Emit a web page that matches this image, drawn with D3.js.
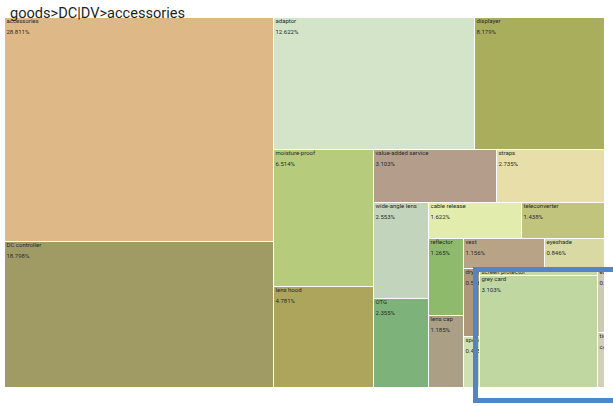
<!DOCTYPE html>
<html><head><meta charset="utf-8">
<script src="https://cdn.jsdelivr.net/npm/d3@7"></script>
<style>html,body{margin:0;padding:0;background:#fff;} svg{display:block;}</style>
</head><body>
<svg id="chart" width="613" height="406"></svg>
<script>
const title = "goods>DC|DV>accessories";
const names = ["accessories","DC controller","adaptor","displayer","moisture-proof","lens hood",
  "value-added service","straps","wide-angle lens","OTG","cable release","teleconverter",
  "reflector","lens cap","vest","eyeshade","dry box","speedlight","screen protector","grey card","earcup","tidy"];
const values = [28.811,18.798,12.622,8.179,6.514,4.781,3.103,2.735,2.553,2.355,1.622,1.438,
  1.265,1.185,1.156,0.846,0.526,0.388,0.39,6.35,0.217,0.183];
const percentLabels = ["28.811%","18.798%","12.622%","8.179%","6.514%","4.781%","3.103%","2.735%",
  "2.553%","2.355%","1.622%","1.438%","1.265%","1.185%","1.156%","0.846%","0.526%","0.405%",
  "0.389%","3.103%","0.124%","container"];
const colors = ["#deb887","#a09b65","#d3e4c9","#a9ae5d","#b6cc7c","#ada55b","#b59d8c","#e8dea9",
  "#c3d4bd","#7eb27b","#e2ecad","#c1c47d","#8ebb6b","#ab9f86","#b9a386","#d8d9a3","#ae9879",
  "#cfe1b3","#c5d9a6","#c1d7a1","#cdc9b5","#d3cfbb"];
// squarified row structure: each pair is one row/column, the rest fills the remainder
const groups = [[0,1],[2,3],[4,5],[6,7],[8,9],[10,11],[12,13],[14,15]];
const lastColumns = [[16,17],[18,19],[20,21]];
const highlight = {x: 475.5, y: 269.5, w: 146, h: 131, color: "#5384c4", width: 5};

const W = 613, H = 406;
const margin = {left: 5, top: 18, right: 9, bottom: 19};
const svg = d3.select("#chart");

const leaf = i => ({name: names[i], value: values[i], label: percentLabels[i], color: colors[i]});
function build(level){
  if (level === groups.length) return {children: lastColumns.map(c => ({children: c.map(leaf)}))};
  return {children: [{children: groups[level].map(leaf)}, build(level + 1)]};
}
const root = d3.hierarchy(build(0)).sum(d => d.value || 0);
d3.treemap()
  .tile(d3.treemapSliceDice)
  .size([W - margin.left - margin.right, H - margin.top - margin.bottom])
  .paddingInner(1)
  .round(true)(root);

const g = svg.append("g").attr("transform", `translate(${margin.left},${margin.top})`);
const cells = g.selectAll("g.cell").data(root.leaves()).join("g")
  .attr("class", "cell")
  .attr("transform", d => `translate(${d.x0},${d.y0})`);
cells.append("clipPath").attr("id", (d, i) => "clip" + i)
  .append("rect").attr("width", d => d.x1 - d.x0).attr("height", d => d.y1 - d.y0);
cells.append("rect")
  .attr("width", d => d.x1 - d.x0).attr("height", d => d.y1 - d.y0)
  .attr("fill", d => d.data.color);
const lab = cells.append("g").attr("clip-path", (d, i) => `url(#clip${i})`)
  .style("font-family", "Roboto, sans-serif").style("font-size", "6px").attr("fill", "#2a2a2a");
lab.append("text").attr("x", 1.5).attr("y", 5).text(d => d.data.name);
lab.append("text").attr("x", 1.5).attr("y", 16).text(d => d.data.label);

svg.append("text").attr("x", 10).attr("y", 17.5)
  .style("font-family", "Roboto, sans-serif").style("font-size", "14.5px").attr("fill", "#1e1e1e")
  .attr("textLength", 175).attr("lengthAdjust", "spacingAndGlyphs")
  .text(title);

svg.append("rect").attr("x", highlight.x).attr("y", highlight.y)
  .attr("width", highlight.w).attr("height", highlight.h)
  .attr("fill", "none").attr("stroke", highlight.color).attr("stroke-width", highlight.width);
</script>
</body></html>
